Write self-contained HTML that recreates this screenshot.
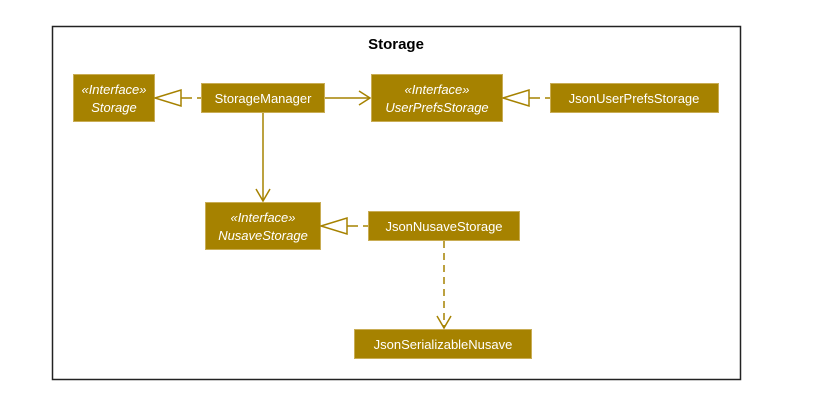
<!DOCTYPE html>
<html><head><meta charset="utf-8"><style>
html,body{margin:0;padding:0;background:#fff;width:814px;height:412px;overflow:hidden}
svg{display:block}
text{font-family:"Liberation Sans",sans-serif;fill:#fff;font-size:13px}
.i{font-style:italic}
</style></head><body>
<svg width="814" height="412" viewBox="0 0 814 412">
<rect x="52.5" y="26.5" width="688" height="353" fill="#fff" stroke="#222" stroke-width="1.5"/>
<text x="396" y="49" text-anchor="middle" style="fill:#000;font-weight:bold;font-size:15px">Storage</text>
<g fill="#a68200" stroke="#c9ad55" stroke-width="1">
<rect x="73.5" y="74.5" width="81" height="47"/>
<rect x="201.5" y="83.5" width="123" height="29"/>
<rect x="371.5" y="74.5" width="131" height="47"/>
<rect x="550.5" y="83.5" width="168" height="29"/>
<rect x="205.5" y="202.5" width="115" height="47"/>
<rect x="368.5" y="211.5" width="151" height="29"/>
<rect x="354.5" y="329.5" width="177" height="29"/>
</g>
<g fill="none" stroke="#a68200" stroke-width="1.5">
<polygon points="155,98 181,90 181,106" fill="#fff"/>
<line x1="181" y1="98" x2="192" y2="98"/><line x1="197" y1="98" x2="201" y2="98"/>
<line x1="325" y1="98" x2="369" y2="98"/><polyline points="359,91 370,98 359,105"/>
<polygon points="503,98 529,90 529,106" fill="#fff"/>
<line x1="529" y1="98" x2="540" y2="98"/><line x1="545" y1="98" x2="550" y2="98"/>
<line x1="263" y1="113" x2="263" y2="200"/><polyline points="256,189 263,201 270,189"/>
<polygon points="321,226 347,218 347,234" fill="#fff"/>
<line x1="347" y1="226" x2="358" y2="226"/><line x1="363" y1="226" x2="368" y2="226"/>
<line x1="444" y1="241" x2="444" y2="327" stroke-dasharray="7,5"/><polyline points="437,316 444,328 451,316"/>
</g>
<text x="114" y="94" text-anchor="middle" class="i">«Interface»</text>
<text x="114" y="112" text-anchor="middle" class="i">Storage</text>
<text x="263" y="103" text-anchor="middle">StorageManager</text>
<text x="437" y="94" text-anchor="middle" class="i">«Interface»</text>
<text x="437" y="112" text-anchor="middle" class="i">UserPrefsStorage</text>
<text x="634" y="103" text-anchor="middle">JsonUserPrefsStorage</text>
<text x="263" y="222" text-anchor="middle" class="i">«Interface»</text>
<text x="263" y="240" text-anchor="middle" class="i">NusaveStorage</text>
<text x="444" y="231" text-anchor="middle">JsonNusaveStorage</text>
<text x="443" y="349" text-anchor="middle">JsonSerializableNusave</text>
</svg>
</body></html>
